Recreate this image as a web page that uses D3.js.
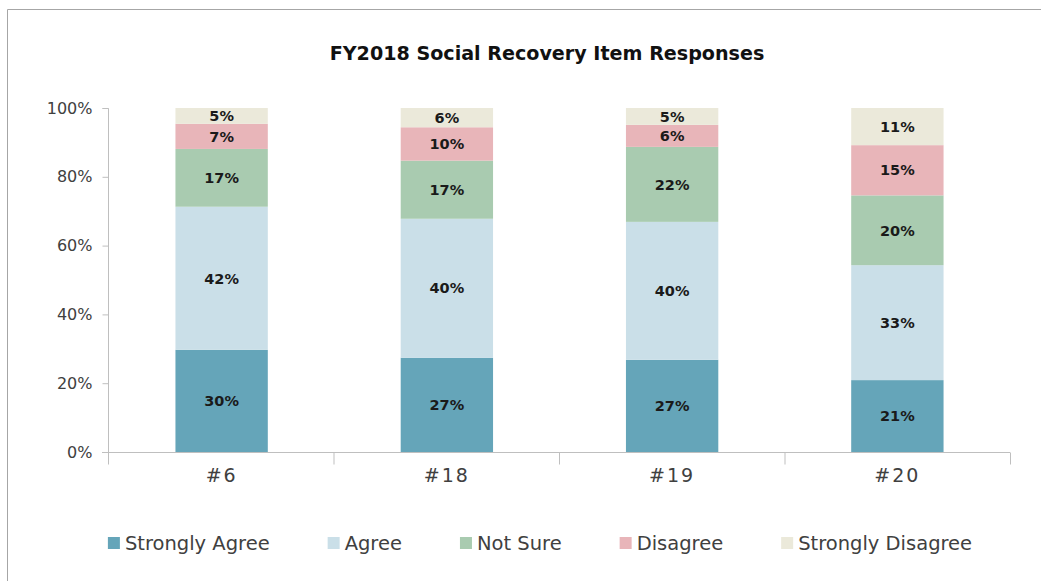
<!DOCTYPE html>
<html><head><meta charset="utf-8">
<script src="https://cdn.jsdelivr.net/npm/d3@7"></script>
<style>
html,body{margin:0;padding:0;background:#fff;}
svg text{font-family:"DejaVu Sans",sans-serif;}
</style></head>
<body><svg id="c" width="1041" height="581"></svg>
<script>
const title = "FY2018 Social Recovery Item Responses";
const categories = ["#6", "#18", "#19", "#20"];
const seriesNames = ["Strongly Agree", "Agree", "Not Sure", "Disagree", "Strongly Disagree"];
const stronglyAgree = [29.7, 27.4, 26.8, 20.9];
const agree = [41.6, 40.4, 40.1, 33.4];
const notSure = [16.8, 16.9, 21.8, 20.3];
const disagree = [7.3, 9.7, 6.4, 14.6];
const stronglyDisagree = [4.6, 5.6, 4.9, 10.8];
const yTicks = [0, 20, 40, 60, 80, 100];
const colors = ["#65a5b9", "#cadfe8", "#a9cbb0", "#e8b5b9", "#ebe9da"];

const seriesValues = [stronglyAgree, agree, notSure, disagree, stronglyDisagree];
const rows = categories.map((c, i) => {
  const r = {cat: c};
  seriesNames.forEach((s, j) => r[s] = seriesValues[j][i]);
  return r;
});

const svg = d3.select("#c");
const m = {left: 108, right: 1010, top: 108, bottom: 452};

// frame
svg.append("line").attr("x1", 7.5).attr("x2", 1041).attr("y1", 9.5).attr("y2", 9.5).attr("stroke", "#a6a6a6");
svg.append("line").attr("x1", 7.5).attr("x2", 7.5).attr("y1", 9.5).attr("y2", 581).attr("stroke", "#a6a6a6");

const tt = svg.append("text").attr("x", 547).attr("y", 60).attr("text-anchor", "middle")
  .attr("font-size", 18).attr("font-weight", "bold").attr("fill", "#111").text(title);
const tw = tt.node().getComputedTextLength();
tt.attr("font-size", Math.min(21, 18 * 435 / tw));

const x = d3.scaleBand().domain(categories).range([m.left + 1, m.right]).paddingInner(0.59).paddingOuter(0.295);
const y = d3.scaleLinear().domain([0, 100]).range([m.bottom, m.top]);

const stack = d3.stack().keys(seriesNames);
const stacked = stack(rows);

const g = svg.append("g");
stacked.forEach((layer, j) => {
  g.selectAll(null).data(layer).enter().append("rect")
    .attr("x", d => x(d.data.cat))
    .attr("width", x.bandwidth())
    .attr("y", d => y(d[1]))
    .attr("height", d => y(d[0]) - y(d[1]))
    .attr("fill", colors[j]);
  g.selectAll(null).data(layer).enter().append("text")
    .attr("x", d => x(d.data.cat) + x.bandwidth() / 2)
    .attr("y", d => (y(d[0]) + y(d[1])) / 2)
    .attr("dy", "0.36em")
    .attr("text-anchor", "middle")
    .attr("font-size", 14.5).attr("font-weight", "bold").attr("fill", "#1a1a1a")
    .text(d => Math.round(d[1] - d[0]) + "%");
});

// y axis
const yAxis = d3.axisLeft(y).tickValues(yTicks).tickSize(6).tickPadding(10).tickFormat(d => d + "%");
const ya = svg.append("g").attr("transform", `translate(${m.left + 0.5},0)`).call(yAxis);
ya.select(".domain").attr("stroke", "#bfbfbf").attr("d", `M-6,${m.top}.5H0V${m.bottom}.5`);
ya.selectAll(".tick line").attr("stroke", "#bfbfbf");
ya.selectAll(".tick text").attr("font-size", 16).attr("fill", "#404040");

// x axis
const xa = svg.append("g").attr("transform", `translate(0,${m.bottom + 0.5})`).call(d3.axisBottom(x).tickSize(0).tickPadding(16));
xa.select(".domain").attr("stroke", "#bfbfbf").attr("d", `M${m.left - 6},0H${m.right}`);
xa.selectAll(".tick text").attr("font-size", 19).attr("letter-spacing", 2).attr("fill", "#404040");
const bounds = d3.range(categories.length + 1).map(i => m.left + 0.5 + i * (m.right - m.left) / categories.length);
xa.selectAll(".bt").data(bounds).enter().append("line").attr("class", "bt")
  .attr("x1", d => d).attr("x2", d => d).attr("y1", 0).attr("y2", 12).attr("stroke", "#bfbfbf");

// legend
const leg = svg.append("g");
const items = seriesNames.map((s, j) => {
  const it = leg.append("g");
  it.append("rect").attr("width", 12).attr("height", 12).attr("y", -6).attr("fill", colors[j]);
  const t = it.append("text").attr("x", 17).attr("dy", "0.35em").attr("font-size", 19.5).attr("fill", "#404040").text(s);
  return {it, w: 17 + t.node().getComputedTextLength()};
});
const gap = 58;
const total = d3.sum(items, d => d.w) + gap * (items.length - 1);
let cx = 540 - total / 2;
items.forEach(d => { d.it.attr("transform", `translate(${cx},543)`); cx += d.w + gap; });
</script></body></html>
